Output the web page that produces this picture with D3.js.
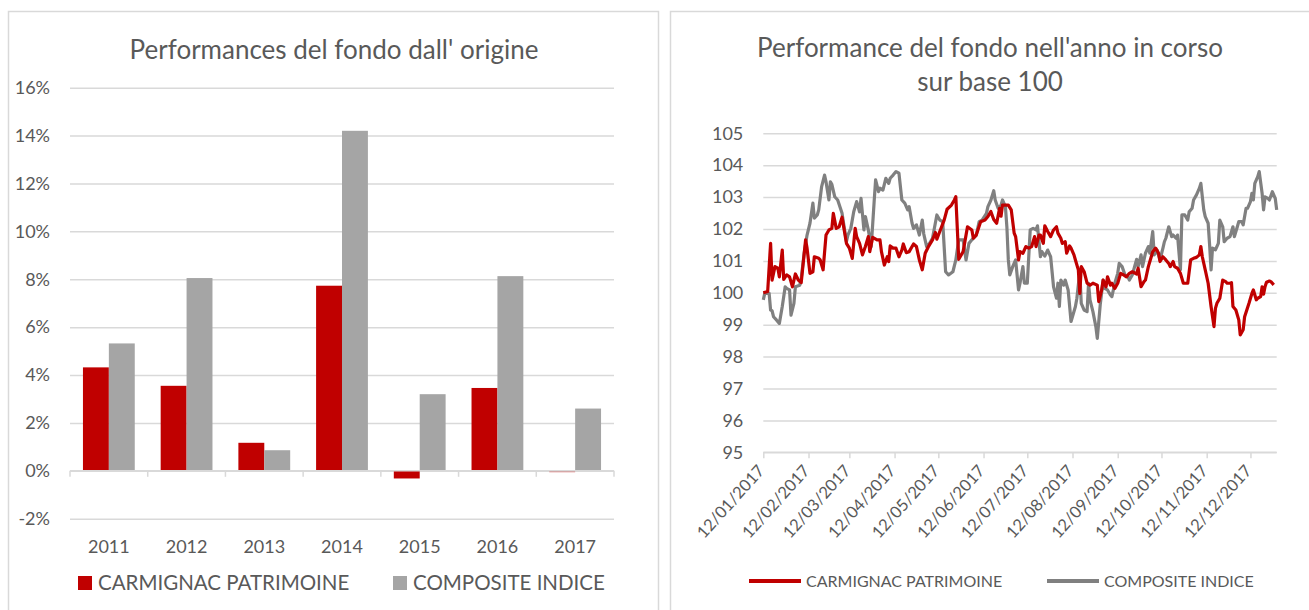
<!DOCTYPE html>
<html>

<head>
    <title>Performances</title>
    <script src="https://cdn.jsdelivr.net/npm/d3@7"></script>
    <style>
        body { margin: 0; background: #fff; }
        text { font-family: Lato, 'Open Sans', sans-serif; fill: #595959; }
    </style>
</head>

<body>
    <svg width="1309" height="610" id="mainsvg"></svg>
    <script>
        // ---- data: bar chart ----
        const years = ['2011', '2012', '2013', '2014', '2015', '2016', '2017'];
        const fundPerf = [4.32, 3.55, 1.17, 7.73, -0.32, 3.46, -0.05];
        const indexPerf = [5.32, 8.05, 0.86, 14.2, 3.2, 8.13, 2.6];
        const barTicks = [-2, 0, 2, 4, 6, 8, 10, 12, 14, 16];
        const seriesNames = ['CARMIGNAC PATRIMOINE', 'COMPOSITE INDICE'];

        // ---- data: line chart (days after 12/01/2017, value base 100) ----
        const startDate = new Date(2017, 0, 12);
        const endDate = new Date(2017, 11, 30);
        const lineTicks = [95, 96, 97, 98, 99, 100, 101, 102, 103, 104, 105];
        const monthTicks = ['2017-01-12', '2017-02-12', '2017-03-12', '2017-04-12', '2017-05-12', '2017-06-12',
            '2017-07-12', '2017-08-12', '2017-09-12', '2017-10-12', '2017-11-12', '2017-12-12'];
        const fundPoints = [
            [0, 100.0], [3, 100.04], [5, 101.55], [6, 100.4], [8, 100.82], [10, 100.77], [11, 100.5], [13, 101.34],
            [14, 100.42], [16, 100.56], [18, 100.5], [20, 100.19], [22, 100.59], [24, 100.4], [26, 100.32], [29, 101.66],
            [30, 101.4], [32, 100.61], [34, 100.66], [35, 101.13], [38, 101.08], [39, 101.03], [41, 100.72], [43, 101.81],
            [45, 101.97], [47, 102.02], [48, 102.49], [50, 102.02], [52, 102.07], [54, 102.37], [57, 101.55], [59, 101.4],
            [61, 101.08], [63, 102.02], [64, 101.76], [66, 101.55], [68, 101.19], [70, 101.45], [72, 101.76], [73, 101.29],
            [75, 101.74], [78, 101.66], [80, 101.66], [81, 101.29], [83, 100.87], [85, 101.13], [86, 100.98], [87, 101.47],
            [89, 101.4], [91, 101.4], [93, 101.13], [95, 101.34], [96, 101.53], [98, 101.26], [100, 101.29], [103, 101.53],
            [105, 101.45], [107, 101.03], [109, 100.72], [111, 101.24], [113, 101.43], [116, 101.66], [118, 101.89], [119, 101.68],
            [121, 101.92], [124, 102.28], [126, 102.62], [129, 102.75], [131, 102.91], [132, 103.01], [134, 101.05], [137, 101.29],
            [138, 101.55], [140, 102.07], [143, 101.97], [144, 101.71], [146, 101.81], [149, 102.23], [152, 102.28], [154, 102.39],
            [156, 102.55], [158, 102.3], [160, 102.18], [162, 102.65], [163, 102.4], [164, 102.75], [168, 102.75], [170, 102.6],
            [172, 101.87], [173, 101.76], [175, 101.03], [176, 101.29], [178, 101.24], [180, 101.45], [182, 101.4], [184, 101.45],
            [186, 101.76], [187, 101.45], [189, 101.81], [190, 101.81], [192, 101.55], [193, 102.1], [195, 101.92], [197, 101.76],
            [199, 101.97], [201, 102.07], [202, 101.87], [204, 101.71], [205, 101.55], [207, 101.6], [208, 101.24], [210, 101.47],
            [211, 101.4], [213, 101.19], [214, 101.03], [216, 100.72], [217, 99.98], [218, 100.82], [220, 100.66], [222, 100.3],
            [224, 100.24], [226, 100.3], [229, 100.24], [230, 99.72], [232, 100.09], [233, 100.4], [235, 100.19], [236, 100.5],
            [238, 100.24], [239, 100.3], [241, 100.14], [243, 100.3], [245, 100.61], [247, 100.56], [249, 100.5], [251, 100.61],
            [253, 100.66], [256, 100.59], [257, 100.77], [259, 100.19], [261, 100.35], [262, 100.4], [264, 100.82], [266, 101.13],
            [267, 101.29], [269, 101.4], [271, 101.24], [272, 100.98], [274, 101.13], [276, 101.03], [278, 100.92], [279, 100.82],
            [281, 100.98], [282, 100.82], [284, 100.77], [286, 100.61], [288, 100.3], [289, 100.3], [291, 100.3], [293, 101.03],
            [295, 101.08], [297, 101.11], [299, 101.19], [300, 101.45], [301, 101.13], [303, 100.72], [305, 100.3], [307, 99.57],
            [309, 98.94], [310, 99.51], [311, 99.67], [313, 99.83], [315, 100.4], [317, 100.35], [318, 100.3], [320, 100.3],
            [321, 100.32], [322, 99.57], [324, 99.46], [326, 99.15], [327, 98.68], [329, 98.84], [330, 99.25], [333, 99.67],
            [335, 99.98], [336, 100.09], [338, 99.78], [339, 99.83], [341, 99.88], [342, 100.19], [343, 99.96], [344, 100.19],
            [345, 100.33], [347, 100.37], [348, 100.35], [350, 100.25]
        ];
        const indexPoints = [
            [0, 99.78], [1, 99.98], [4, 99.98], [5, 99.46], [6, 99.44], [7, 99.25], [9, 99.15], [11, 99.04],
            [13, 99.57], [15, 100.19], [16, 100.14], [18, 100.09], [19, 99.3], [21, 99.67], [22, 100.19], [25, 100.24],
            [26, 100.45], [28, 101.24], [30, 101.81], [32, 102.18], [34, 102.81], [35, 102.34], [37, 102.44], [38, 102.6],
            [40, 103.33], [42, 103.69], [43, 103.48], [45, 102.91], [46, 103.48], [47, 103.4], [49, 103.01], [51, 102.91],
            [54, 102.49], [57, 101.6], [58, 101.81], [60, 102.02], [62, 102.54], [64, 102.86], [66, 102.54], [67, 102.96],
            [69, 101.97], [70, 102.39], [72, 101.97], [74, 101.45], [76, 102.86], [77, 103.54], [79, 103.17], [80, 103.28],
            [82, 103.22], [84, 103.59], [86, 103.43], [87, 103.59], [89, 103.69], [91, 103.8], [93, 103.75], [95, 102.91],
            [97, 102.81], [99, 102.6], [100, 102.7], [102, 102.18], [103, 102.02], [105, 102.13], [107, 101.81], [109, 102.28],
            [110, 101.85], [112, 101.45], [114, 101.55], [116, 101.71], [119, 102.44], [121, 102.28], [123, 102.23], [125, 100.66],
            [127, 100.56], [130, 100.66], [132, 101.03], [134, 101.66], [137, 101.66], [139, 101.03], [141, 101.55], [143, 101.66],
            [146, 101.81], [148, 102.23], [150, 102.28], [153, 102.49], [154, 102.7], [156, 102.9], [158, 103.2], [159, 102.91],
            [161, 102.65], [163, 102.75], [164, 102.91], [166, 102.7], [167, 102.07], [168, 101.03], [169, 100.56], [171, 100.82],
            [173, 101.03], [175, 100.09], [176, 100.3], [178, 100.82], [179, 100.3], [181, 100.3], [183, 101.97], [185, 102.02],
            [187, 101.97], [188, 102.1], [190, 101.13], [191, 101.29], [193, 101.15], [195, 101.34], [197, 101.13], [199, 100.19],
            [201, 99.83], [202, 100.3], [203, 99.57], [204, 100.4], [206, 100.24], [207, 100.4], [209, 100.09], [211, 99.1],
            [214, 99.57], [215, 99.83], [217, 100.66], [218, 99.67], [220, 99.46], [222, 99.41], [223, 100.3], [224, 99.78],
            [226, 99.41], [228, 98.94], [229, 98.57], [231, 99.62], [233, 100.4], [234, 100.14], [236, 100.09], [238, 99.93],
            [239, 99.88], [241, 100.3], [243, 100.61], [244, 100.92], [246, 100.82], [248, 100.56], [250, 100.5], [251, 100.4],
            [253, 100.56], [256, 101.05], [257, 100.82], [259, 101.19], [260, 100.82], [262, 101.24], [264, 101.45], [265, 101.24],
            [267, 101.92], [268, 101.19], [270, 101.34], [272, 101.03], [274, 101.4], [275, 101.6], [276, 101.71], [278, 102.07],
            [280, 101.76], [281, 101.81], [283, 101.71], [284, 101.81], [286, 100.72], [287, 102.44], [289, 102.44], [291, 102.28],
            [292, 102.54], [294, 102.65], [295, 102.91], [297, 103.07], [299, 103.28], [300, 103.43], [302, 102.6], [303, 102.39],
            [305, 102.18], [306, 101.5], [307, 100.72], [308, 101.4], [310, 101.35], [312, 101.55], [313, 102.28], [315, 102.07],
            [316, 101.6], [318, 101.71], [320, 101.76], [322, 102.07], [323, 101.76], [325, 102.07], [326, 102.23], [328, 102.23],
            [329, 102.13], [331, 102.65], [332, 102.65], [334, 102.86], [335, 103.12], [336, 102.91], [337, 103.43], [339, 103.64],
            [340, 103.8], [342, 103.12], [343, 102.6], [344, 103.01], [346, 102.96], [347, 102.91], [349, 103.17], [351, 102.96],
            [352, 102.6]
        ];

        const red = '#c00000';
        const grayBar = '#a5a5a5';
        const grayLine = '#808080';
        const gridColor = '#d9d9d9';

        const svg = d3.select('#mainsvg');

        // chart frames
        svg.append('rect').attr('x', 8.5).attr('y', 11.5).attr('width', 650).attr('height', 620)
            .attr('fill', 'none').attr('stroke', gridColor).attr('stroke-width', 1.5);
        svg.append('rect').attr('x', 670.5).attr('y', 11.5).attr('width', 660).attr('height', 620)
            .attr('fill', 'none').attr('stroke', gridColor).attr('stroke-width', 1.5);

        // ================= left: bar chart =================
        const bar = svg.append('g').attr('id', 'bar_group');

        const xBand = d3.scaleBand().domain(years).range([70, 614])
            .paddingInner(1 / 3).paddingOuter(1 / 6);
        const xSub = d3.scaleBand().domain([0, 1]).range([0, xBand.bandwidth()]);
        const yBar = d3.scaleLinear().domain([-2, 16]).range([518.7, 87.7]);

        bar.append('text')
            .attr('x', 334).attr('y', 59)
            .attr('text-anchor', 'middle')
            .attr('font-size', '26px')
            .text("Performances del fondo dall' origine");

        const yAxisBar = d3.axisLeft(yBar)
            .tickValues(barTicks)
            .tickSize(-(614 - 70))
            .tickPadding(20)
            .tickFormat(d => d + '%');
        const yAxisBarG = bar.append('g')
            .attr('transform', 'translate(70,0)')
            .call(yAxisBar);
        yAxisBarG.select('.domain').remove();
        yAxisBarG.selectAll('.tick line').attr('stroke', gridColor).attr('stroke-width', 1.5);
        yAxisBarG.selectAll('.tick text').attr('font-size', '18px').attr('fill', '#595959');

        const barData = years.map((y, i) => ({ year: y, values: [fundPerf[i], indexPerf[i]] }));
        bar.append('g').selectAll('g').data(barData)
            .join('g')
            .attr('transform', d => `translate(${xBand(d.year)},0)`)
            .selectAll('rect').data(d => d.values)
            .join('rect')
            .attr('x', (d, i) => xSub(i))
            .attr('width', xSub.bandwidth())
            .attr('y', d => yBar(Math.max(0, d)))
            .attr('height', d => Math.max(1.5, Math.abs(yBar(d) - yBar(0))))
            .attr('fill', (d, i) => i === 0 ? red : grayBar)
            .attr('opacity', d => Math.abs(d) < 0.1 ? 0.45 : 1);

        // category axis on the 0% line
        const catScale = d3.scalePoint().domain(d3.range(years.length + 1)).range([70, 614]);
        const xAxisBar = bar.append('g');
        xAxisBar.append('line')
            .attr('x1', 70).attr('x2', 614)
            .attr('y1', yBar(0)).attr('y2', yBar(0))
            .attr('stroke', gridColor).attr('stroke-width', 1.5);
        xAxisBar.selectAll('.ctick').data(catScale.domain())
            .join('line')
            .attr('class', 'ctick')
            .attr('x1', d => catScale(d)).attr('x2', d => catScale(d))
            .attr('y1', yBar(0)).attr('y2', yBar(0) + 6)
            .attr('stroke', gridColor).attr('stroke-width', 1.5);
        xAxisBar.selectAll('.clabel').data(years)
            .join('text')
            .attr('class', 'clabel')
            .attr('x', d => xBand(d) + xBand.bandwidth() / 2)
            .attr('y', 553)
            .attr('text-anchor', 'middle')
            .attr('font-size', '18px')
            .text(d => d);

        // legend
        const legBar = bar.append('g');
        const legBarX = [78, 393];
        seriesNames.forEach((name, i) => {
            legBar.append('rect')
                .attr('x', legBarX[i]).attr('y', 576)
                .attr('width', 14).attr('height', 14)
                .attr('fill', i === 0 ? red : grayBar);
            legBar.append('text')
                .attr('x', legBarX[i] + 20).attr('y', 590)
                .attr('font-size', '20.5px')
                .text(name);
        });

        // ================= right: line chart =================
        const lineG = svg.append('g').attr('id', 'line_group');
        const xTime = d3.scaleTime().domain([startDate, endDate]).range([763.3, 1276.7]);
        const yLine = d3.scaleLinear().domain([95, 105]).range([452.3, 133.3]);

        const title = lineG.append('text')
            .attr('text-anchor', 'middle')
            .attr('font-size', '26px');
        title.append('tspan').attr('x', 990).attr('y', 57).text("Performance del fondo nell'anno in corso");
        title.append('tspan').attr('x', 990).attr('y', 91).text('sur base 100');

        const yAxisLine = d3.axisLeft(yLine)
            .tickValues(lineTicks)
            .tickSize(-(1276.7 - 763.3))
            .tickPadding(20);
        const yAxisLineG = lineG.append('g')
            .attr('transform', 'translate(763.3,0)')
            .call(yAxisLine);
        yAxisLineG.select('.domain').remove();
        yAxisLineG.selectAll('.tick line').attr('stroke', gridColor).attr('stroke-width', 1.5);
        yAxisLineG.selectAll('.tick text').attr('font-size', '18px').attr('fill', '#595959');

        const parse = d3.timeParse('%Y-%m-%d');
        const fmt = d3.timeFormat('%d/%m/%Y');
        const xAxisLine = d3.axisBottom(xTime)
            .tickValues(monthTicks.map(parse))
            .tickSize(6)
            .tickFormat(fmt);
        const xAxisLineG = lineG.append('g')
            .attr('transform', `translate(0,${yLine(95)})`)
            .call(xAxisLine);
        xAxisLineG.select('.domain').attr('stroke', gridColor).attr('stroke-width', 1.5)
            .attr('d', `M763.3,0H1276.7`);
        xAxisLineG.selectAll('.tick line').attr('stroke', gridColor).attr('stroke-width', 1.5);
        xAxisLineG.selectAll('.tick text')
            .attr('font-size', '16.5px')
            .attr('fill', '#595959')
            .attr('text-anchor', 'end')
            .attr('dy', 0)
            .attr('transform', 'translate(-5,13) rotate(-48)');

        const line = d3.line()
            .x(d => xTime(d3.timeDay.offset(startDate, d[0])))
            .y(d => yLine(d[1]));

        lineG.append('path').datum(indexPoints)
            .attr('d', line)
            .attr('fill', 'none')
            .attr('stroke', grayLine)
            .attr('stroke-width', 3.2)
            .attr('stroke-linejoin', 'round');
        lineG.append('path').datum(fundPoints)
            .attr('d', line)
            .attr('fill', 'none')
            .attr('stroke', red)
            .attr('stroke-width', 3.2)
            .attr('stroke-linejoin', 'round');

        // legend
        const legLine = lineG.append('g');
        const legLineX = [749, 1047];
        seriesNames.forEach((name, i) => {
            legLine.append('line')
                .attr('x1', legLineX[i]).attr('x2', legLineX[i] + 52)
                .attr('y1', 581).attr('y2', 581)
                .attr('stroke', i === 0 ? red : grayLine)
                .attr('stroke-width', 4);
            legLine.append('text')
                .attr('x', legLineX[i] + 57).attr('y', 587)
                .attr('font-size', '16px')
                .text(name);
        });
    </script>
</body>

</html>
